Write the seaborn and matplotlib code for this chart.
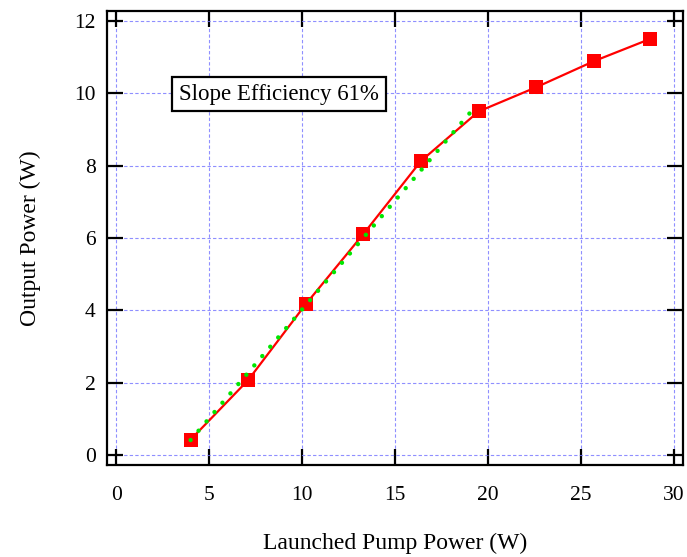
import numpy as np
import pandas as pd
import matplotlib
matplotlib.use("Agg")
import matplotlib.pyplot as plt
import seaborn as sns

# measured points (launched pump power vs output power)
pump_w = [4.0, 7.1, 10.2, 13.3, 16.4, 19.5, 22.6, 25.7, 28.7]
output_w = [0.42, 2.07, 4.17, 6.11, 8.13, 9.5, 10.17, 10.89, 11.5]

# linear fit end points (slope efficiency line)
fit_x = [4.0, 19.3]
fit_y = [0.41, 9.62]

x_ticks = [0, 5, 10, 15, 20, 25, 30]
y_ticks = [0, 2, 4, 6, 8, 10, 12]

sns.set_theme(style="white")
plt.rcParams['font.family'] = ['Liberation Serif', 'DejaVu Serif']

df = pd.DataFrame({"pump": pump_w, "out": output_w})
fit_df = pd.DataFrame({"pump": fit_x, "out": fit_y})

fig = plt.figure(figsize=(6.87, 5.57), dpi=100)
ax = fig.add_axes([0.1557, 0.1652, 0.9942 - 0.1557, 0.9803 - 0.1652])

# grid like gnuplot
ax.set_xticks(x_ticks)
ax.set_yticks(y_ticks)
ax.grid(True, color=(0.45, 0.45, 1.0), linestyle=(0, (3, 2)), linewidth=0.8, alpha=0.8)
ax.set_axisbelow(True)

sns.lineplot(data=df, x="pump", y="out", ax=ax, color="red", linewidth=1.6,
             marker="s", markersize=10, markeredgewidth=0, zorder=4)
# dotted fit line on top of the squares
sns.lineplot(data=fit_df, x="pump", y="out", ax=ax, color="#00e600", linewidth=3.2,
             linestyle=(0, (0.01, 2.75)), dash_capstyle="round", zorder=5)

ax.set_xlim(-0.5, 30.5)
ax.set_ylim(-0.28, 12.28)

for s in ax.spines.values():
    s.set_linewidth(1.6)
    s.set_color("black")
ax.tick_params(axis="both", which="major", direction="in", length=11.5, width=1.6,
               top=True, right=True, bottom=True, left=True, labelsize=15.5, color="black",
               labelcolor="black")
ax.tick_params(axis="x", pad=15)
ax.tick_params(axis="y", pad=8)

ax.set_xlabel("Launched Pump Power (W)", fontsize=17, labelpad=20, color="black")
ax.set_ylabel("Output Power (W)", fontsize=17, labelpad=24, color="black")

ax.text(8.77, 9.98, "Slope Efficiency 61%", fontsize=16.5, ha="center", va="center", color="black",
        zorder=6, bbox=dict(boxstyle="square,pad=0.3", facecolor="white", edgecolor="black", linewidth=1.6))

fig.savefig("out.png", dpi=100)
